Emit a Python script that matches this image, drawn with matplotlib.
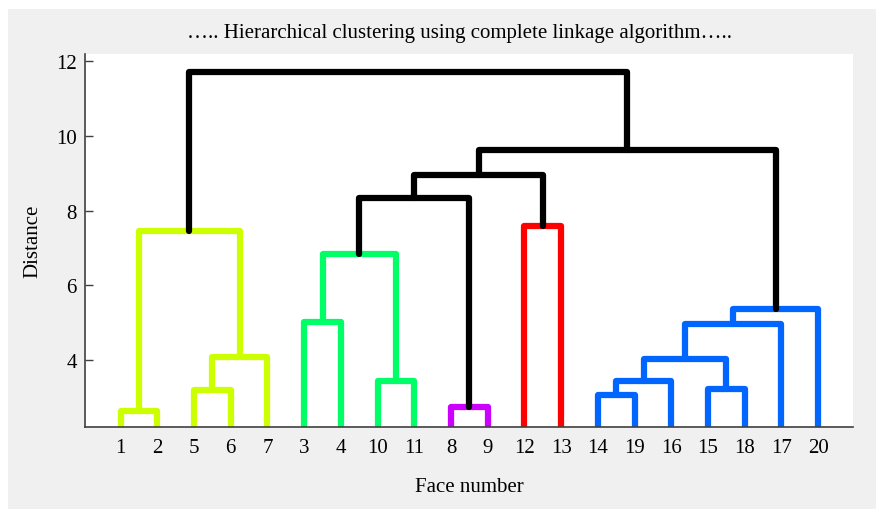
import matplotlib.pyplot as plt
from matplotlib.patches import Rectangle

# leaf order along the x axis
leaf_order = [1, 2, 5, 6, 7, 3, 4, 10, 11, 8, 9, 12, 13, 14, 19, 16, 15, 18, 17, 20]

# merges: cluster ids 21.. are created in this order (MATLAB style numbering)
merge_left = [1, 5, 14, 15, 10, 23, 8, 26, 22, 28, 3, 30, 31, 21, 12, 33, 36, 37, 34]
merge_right = [2, 6, 19, 18, 11, 16, 9, 24, 7, 17, 4, 20, 25, 29, 13, 27, 35, 32, 38]
merge_height = [2.65, 3.2, 3.06, 3.22, 3.44, 3.44, 2.74, 4.03, 4.08, 4.96,
                5.02, 5.36, 6.83, 7.45, 7.6, 8.35, 8.96, 9.63, 11.7]
merge_color = ['#CCFF00', '#CCFF00', '#0066FF', '#0066FF', '#00FF66', '#0066FF',
               '#CC00FF', '#0066FF', '#CCFF00', '#0066FF', '#00FF66', '#0066FF',
               '#00FF66', '#CCFF00', '#FF0000', 'black', 'black', 'black', 'black']

plt.rcParams['font.family'] = 'Liberation Serif'

fig = plt.figure(figsize=(8.76, 5.10), dpi=100)
fig.patches.append(Rectangle((8 / 876, 0), 1, 1 - 10 / 510, transform=fig.transFigure,
                             facecolor='#F0F0F0', edgecolor='none', zorder=-10))
ax = fig.add_axes([85 / 876, 1 - 428 / 510, (853 - 85) / 876, (428 - 55) / 510])

xpos = {leaf: i + 1 for i, leaf in enumerate(leaf_order)}
ypos = {leaf: 0 for leaf in leaf_order}
for k in range(len(merge_left)):
    a, b, h = merge_left[k], merge_right[k], merge_height[k]
    ax.plot([xpos[a], xpos[a], xpos[b], xpos[b]], [ypos[a], h, h, ypos[b]],
            color=merge_color[k], linewidth=4.5, solid_joinstyle='round',
            solid_capstyle='round')
    cid = 21 + k
    xpos[cid] = (xpos[a] + xpos[b]) / 2
    ypos[cid] = h

ax.set_xlim(0.03, 20.95)
ax.set_ylim(2.21, 12.19)
ax.set_xticks(range(1, 21))
ax.set_xticklabels([str(v) for v in leaf_order], fontsize=15)
ax.set_yticks([4, 6, 8, 10, 12])
ax.set_yticklabels(['4', '6', '8', '10', '12'], fontsize=15)
ax.tick_params(axis='x', length=0, pad=8)
ax.tick_params(axis='y', direction='in', length=6, width=1, color='#404040', pad=6)
for s in ['top', 'right']:
    ax.spines[s].set_visible(False)
for s in ['left', 'bottom']:
    ax.spines[s].set_color('#404040')
    ax.spines[s].set_linewidth(1.2)

ax.set_title('\u2026.. Hierarchical clustering using complete linkage algorithm\u2026..',
             fontsize=15, pad=12, x=0.487)
ax.set_xlabel('Face number', fontsize=15, labelpad=14)
ax.set_ylabel('Distance', fontsize=15, labelpad=10)

plt.savefig('out.png', dpi=100)
